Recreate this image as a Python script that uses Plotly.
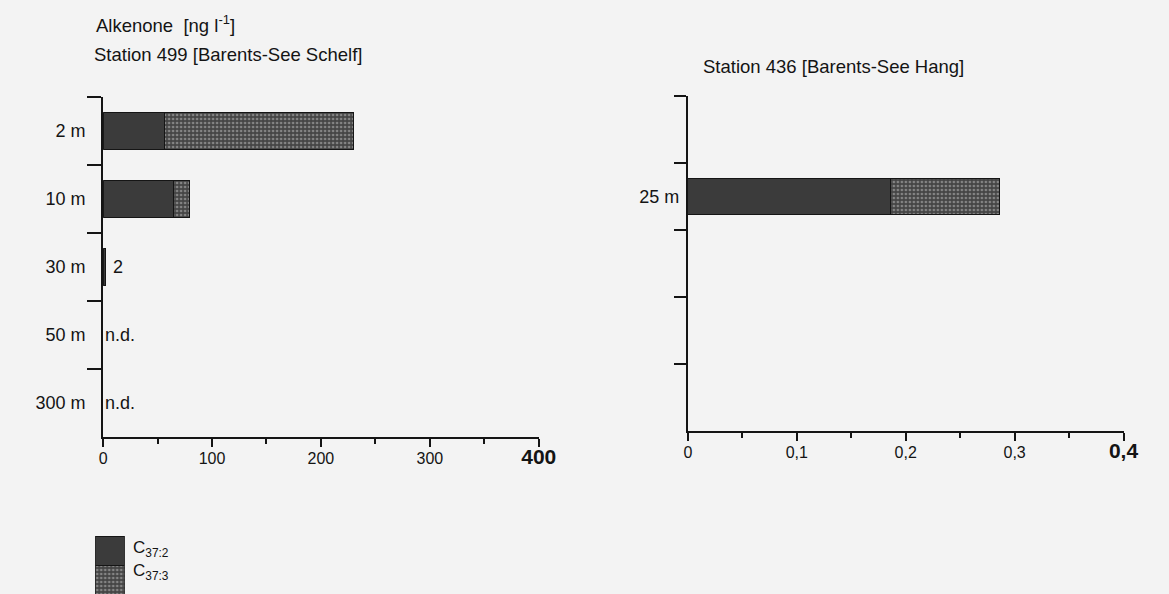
import plotly.graph_objects as go

# ---------------- data ----------------
left_depths = ["2 m", "10 m", "30 m", "50 m", "300 m"]
left_c372 = [56, 65, 2, None, None]
left_c373 = [174, 14, None, None, None]
left_notes = ["", "", "2", "n.d.", "n.d."]

right_slots = ["\u200b", "25 m", "\u200b\u200b", "\u200b\u200b\u200b", "\u200b\u200b\u200b\u200b"]
right_depths = ["25 m"]
right_c372 = [0.186]
right_c373 = [0.10]

left_xticks = [0, 100, 200, 300, 400]
left_xticktext = ["0", "100", "200", "300", "<b><span style='font-size:21px'>400</span></b>"]
left_minor = [50, 150, 250, 350]
right_xticks = [0, 0.1, 0.2, 0.3, 0.4]
right_xticktext = ["0", "0,1", "0,2", "0,3", "<b><span style='font-size:21px'>0,4</span></b>"]
right_minor = [0.05, 0.15, 0.25, 0.35]

legend_labels = ["C<sub>37:2</sub>", "C<sub>37:3</sub>"]
legend_vals = [1, 1]

# ---------------- styles ----------------
INK = "#141414"
BG = "#f3f3f3"
FONT = "Liberation Sans, Arial, sans-serif"
W, H = 1169, 594
DARK = dict(color="#3b3b3b", line=dict(color="#151515", width=1))
DOTS = dict(color="#4a4a4a", line=dict(color="#151515", width=1),
            pattern=dict(shape=".", bgcolor="#454545", fgcolor="#c4c4c4",
                         size=4, solidity=0.35))
BARW = 0.53

fig = go.Figure()
fig.add_trace(go.Bar(x=left_c372, y=left_depths, orientation="h", marker=DARK,
                     width=BARW, xaxis="x", yaxis="y", showlegend=False))
fig.add_trace(go.Bar(x=left_c373, y=left_depths, orientation="h", marker=DOTS,
                     width=BARW, xaxis="x", yaxis="y", showlegend=False))
fig.add_trace(go.Bar(x=right_c372, y=right_depths, orientation="h", marker=DARK,
                     width=BARW, xaxis="x2", yaxis="y2", showlegend=False))
fig.add_trace(go.Bar(x=right_c373, y=right_depths, orientation="h", marker=DOTS,
                     width=BARW, xaxis="x2", yaxis="y2", showlegend=False))
# legend swatches
fig.add_trace(go.Bar(x=legend_vals[:1], y=legend_labels[:1], orientation="h", marker=DARK,
                     width=1, xaxis="x3", yaxis="y3", showlegend=False))
fig.add_trace(go.Bar(x=legend_vals[1:], y=legend_labels[1:], orientation="h", marker=DOTS,
                     width=1, xaxis="x3", yaxis="y3", showlegend=False))

def px(v):
    return v / W

def py(v):
    return 1 - v / H

XFONT = dict(family=FONT, size=16, color=INK)
YFONT = dict(family=FONT, size=18, color=INK)

axis_common = dict(showline=True, linewidth=2, linecolor=INK, showgrid=False,
                   zeroline=False, tickcolor=INK, tickwidth=2)

xa = dict(axis_common, domain=[px(101), px(545)], range=[0, 400], anchor="y",
          tickmode="array", tickvals=left_xticks, ticktext=left_xticktext,
          ticks="outside", ticklen=8, tickfont=XFONT, ticklabelstandoff=-2,
          minor=dict(tickmode="array", tickvals=left_minor, ticks="outside",
                     ticklen=5, tickwidth=2, tickcolor=INK))
ya = dict(axis_common, domain=[py(437), py(97)], type="category",
          categoryorder="array", categoryarray=left_depths, range=[4.5, -0.5],
          anchor="x", ticks="outside", tickson="boundaries", ticklen=14,
          ticklabelstandoff=12, tickfont=YFONT)
xa2 = dict(axis_common, domain=[px(697), px(1141)], range=[0, 0.4], anchor="y2",
           tickmode="array", tickvals=right_xticks, ticktext=right_xticktext,
           ticks="outside", ticklen=8, tickfont=XFONT, ticklabelstandoff=-2,
           minor=dict(tickmode="array", tickvals=right_minor, ticks="outside",
                      ticklen=5, tickwidth=2, tickcolor=INK))
ya2 = dict(axis_common, domain=[py(431), py(96)], type="category",
           categoryorder="array", categoryarray=right_slots, range=[4.5, -0.5],
           anchor="x2", ticks="outside", tickson="boundaries", ticklen=12,
           ticklabelstandoff=3, tickfont=YFONT)
xa3 = dict(domain=[px(93), px(123)], range=[0, 1], visible=False, anchor="y3",
           fixedrange=True)
ya3 = dict(domain=[0, py(536)], type="category", categoryorder="array",
           categoryarray=legend_labels, range=[1.5, -0.5], anchor="x3",
           visible=False)

annotations = []
for d, note, v in zip(left_depths, left_notes, left_c372):
    if note:
        annotations.append(dict(x=(v or 0), y=d, xref="x", yref="y", text=note,
                                showarrow=False, xanchor="left", yanchor="middle",
                                xshift=6 if v else 0,
                                font=dict(family=FONT, size=18, color=INK)))

# legend labels
for lab, yy in zip(legend_labels, [549, 572]):
    annotations.append(dict(x=px(129), y=py(yy), xref="paper", yref="paper",
                            text=lab, showarrow=False, xanchor="left",
                            yanchor="middle", font=dict(family=FONT, size=17, color=INK)))

title_font = dict(family=FONT, size=18.5, color=INK)
annotations += [
    dict(x=px(92), y=py(24), xref="paper", yref="paper", showarrow=False,
         text="Alkenone  [ng l<sup>-1</sup>]", xanchor="left", yanchor="middle",
         font=title_font),
    dict(x=px(90), y=py(55), xref="paper", yref="paper", showarrow=False,
         text="Station 499 [Barents-See Schelf]", xanchor="left", yanchor="middle",
         font=title_font),
    dict(x=px(710), y=py(67), xref="paper", yref="paper", showarrow=False,
         text="Station 436 [Barents-See Hang]", xanchor="left", yanchor="middle",
         font=title_font),
]

fig.update_layout(
    width=W, height=H, margin=dict(l=0, r=0, t=0, b=0),
    paper_bgcolor=BG, plot_bgcolor=BG, barmode="stack",
    xaxis=xa, yaxis=ya, xaxis2=xa2, yaxis2=ya2, xaxis3=xa3, yaxis3=ya3,
    annotations=annotations, font=dict(family=FONT, color=INK),
)

fig.write_html("out.html")
